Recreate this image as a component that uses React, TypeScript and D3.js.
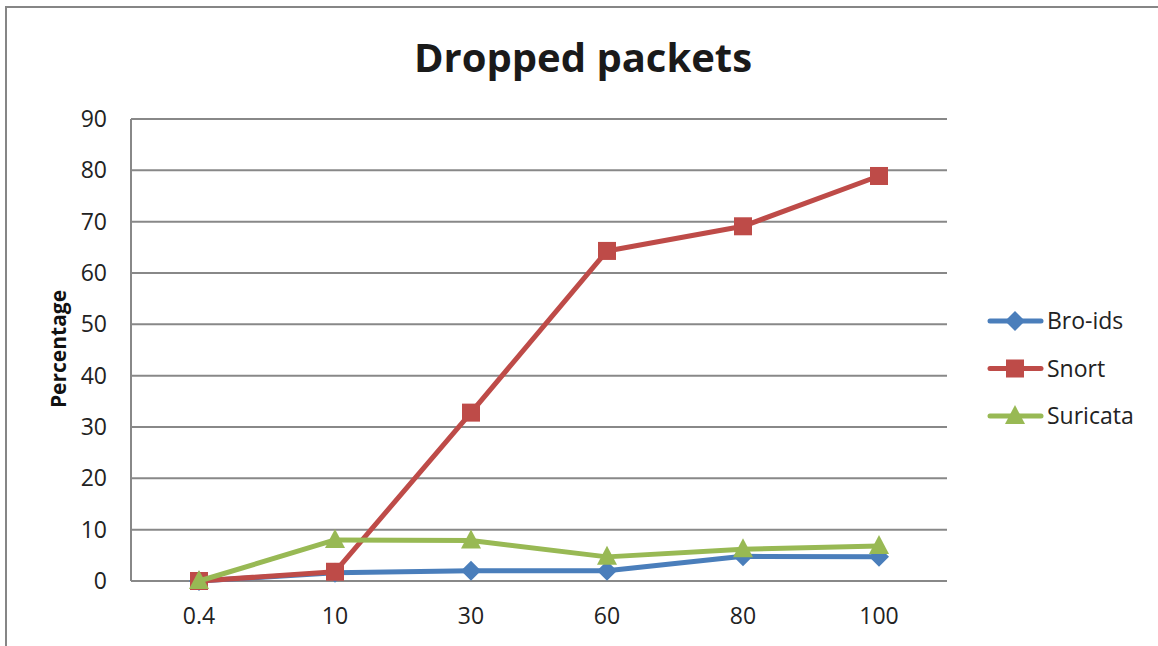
import React from "react";
import * as d3 from "d3";

const categories = ["0.4", "10", "30", "60", "80", "100"];
const broIds = [0, 1.6, 2.0, 2.0, 4.8, 4.7];
const snort = [0, 1.8, 32.8, 64.3, 69.1, 78.9];
const suricata = [0, 8.0, 7.9, 4.7, 6.2, 6.8];
const yTicks = [0, 10, 20, 30, 40, 50, 60, 70, 80, 90];

const seriesList = [
  { name: "Bro-ids", values: broIds, color: "#4A7EBB", marker: "diamond" },
  { name: "Snort", values: snort, color: "#BE4B48", marker: "square" },
  { name: "Suricata", values: suricata, color: "#98B954", marker: "triangle" },
];

const W = 1158;
const H = 646;
const FONT = "Open Sans, Liberation Sans, sans-serif";

function Marker({ type, x, y, color }: { type: string; x: number; y: number; color: string }) {
  if (type === "square") {
    return <rect x={x - 9} y={y - 9} width={18} height={18} fill={color} />;
  }
  if (type === "diamond") {
    return <path d={`M${x},${y - 10}L${x + 10},${y}L${x},${y + 10}L${x - 10},${y}Z`} fill={color} />;
  }
  return <path d={`M${x},${y - 11}L${x + 10},${y + 8}L${x - 10},${y + 8}Z`} fill={color} />;
}

export default function App() {
  const left = 131, right = 947, top = 119, bottom = 581;
  const x = d3.scaleBand<string>().domain(categories).range([left, right]);
  const y = d3.scaleLinear().domain([0, 90]).range([bottom, top]);
  const cx = (c: string) => (x(c) as number) + x.bandwidth() / 2;
  const line = d3
    .line<number>()
    .x((_, i) => cx(categories[i]))
    .y((v) => y(v));

  return (
    <svg width={W} height={H} style={{ position: "absolute", left: 0, top: 0, background: "#fff" }} fontFamily={FONT}>
      <rect x={0} y={0} width={W} height={H} fill="#fff" />
      {/* frame */}
      <path d={`M6,${H}V7H${W}`} fill="none" stroke="#868686" strokeWidth={2} />
      {/* title */}
      <text x={583} y={72} textAnchor="middle" fontSize={40} fontWeight="bold" fill="#1a1a1a">
        Dropped packets
      </text>
      {/* gridlines */}
      {yTicks.map((t) => (
        <line key={t} x1={left} x2={right} y1={y(t)} y2={y(t)} stroke="#888" strokeWidth={2} />
      ))}
      <line x1={left} x2={left} y1={top} y2={bottom} stroke="#888" strokeWidth={2} />
      {/* y tick labels */}
      {yTicks.map((t) => (
        <text key={t} x={107} y={y(t) + 8} textAnchor="end" fontSize={23} fill="#222">
          {t}
        </text>
      ))}
      {/* x tick labels */}
      {categories.map((c) => (
        <text key={c} x={cx(c)} y={624} textAnchor="middle" fontSize={23} fill="#222">
          {c}
        </text>
      ))}
      {/* y axis title */}
      <text
        transform={`translate(66,349) rotate(-90)`}
        textAnchor="middle"
        fontSize={21}
        fontWeight="bold"
        fill="#111"
      >
        Percentage
      </text>
      {/* series */}
      {seriesList.map((s) => (
        <g key={s.name}>
          <path d={line(s.values) || ""} fill="none" stroke={s.color} strokeWidth={5} strokeLinejoin="round" strokeLinecap="round" />
          {s.values.map((v, i) => (
            <Marker key={i} type={s.marker} x={cx(categories[i])} y={y(v)} color={s.color} />
          ))}
        </g>
      ))}
      {/* legend */}
      {seriesList.map((s, i) => {
        const ly = 321 + i * 47.5;
        return (
          <g key={s.name}>
            <line x1={990} x2={1041} y1={ly} y2={ly} stroke={s.color} strokeWidth={5} strokeLinecap="round" />
            <Marker type={s.marker} x={1015} y={ly} color={s.color} />
            <text x={1047} y={ly + 8} fontSize={23} fill="#222">
              {s.name}
            </text>
          </g>
        );
      })}
    </svg>
  );
}
